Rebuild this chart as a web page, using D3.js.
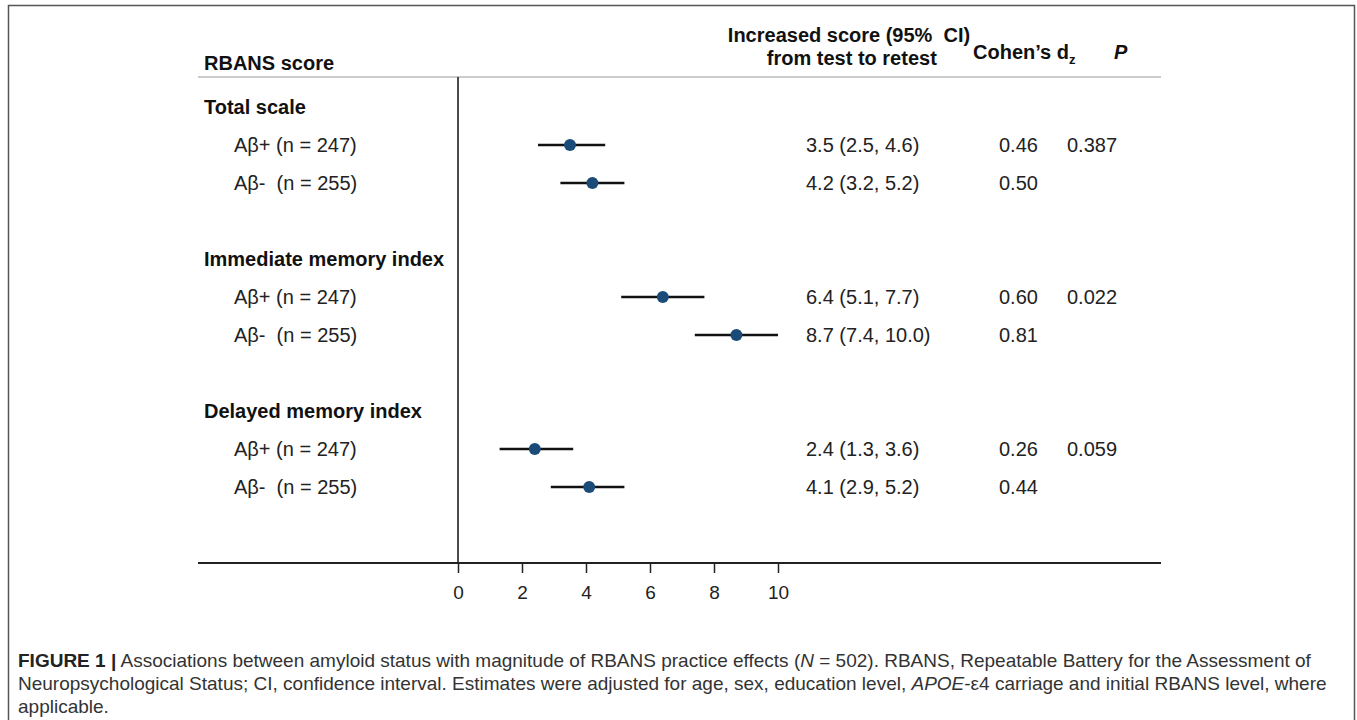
<!DOCTYPE html>
<html>
<head>
<meta charset="utf-8">
<script src="https://cdn.jsdelivr.net/npm/d3@7"></script>
<style>
  body { margin: 0; background: #fff; }
  svg { display: block; font-family: "Liberation Sans", Arial, sans-serif; }
  svg text { white-space: pre; }
</style>
</head>
<body>
<div id="chart"></div>
<script>
// RBANS practice effects by amyloid status
const sections = ['Total scale', 'Immediate memory index', 'Delayed memory index'];
const groups = ['A\u03B2+ (n = 247)', 'A\u03B2-  (n = 255)'];
const estimates = [3.5, 4.2, 6.4, 8.7, 2.4, 4.1];
const lower = [2.5, 3.2, 5.1, 7.4, 1.3, 2.9];
const upper = [4.6, 5.2, 7.7, 10.0, 3.6, 5.2];
const ciText = ['3.5 (2.5, 4.6)', '4.2 (3.2, 5.2)', '6.4 (5.1, 7.7)', '8.7 (7.4, 10.0)', '2.4 (1.3, 3.6)', '4.1 (2.9, 5.2)'];
const cohenD = ['0.46', '0.50', '0.60', '0.81', '0.26', '0.44'];
const pValues = ['0.387', '0.022', '0.059'];
const xTicks = [0, 2, 4, 6, 8, 10];

const W = 1357, H = 720;
const FS = 20;
const svg = d3.select('#chart').append('svg').attr('width', W).attr('height', H);

// outer frame (bottom edge is cut off in the original)
svg.append('path')
    .attr('d', `M8.5,${H} V5.5 H1354.5 V${H}`)
    .attr('fill', 'none').attr('stroke', '#555').attr('stroke-width', 1.5);

// slot index -> vertical position (heading, row, row, blank, ...)
const y = d3.scaleLinear().domain([0, 12]).range([107, 563]);
const x = d3.scaleLinear().domain([0, 10]).range([458, 778]);

const rows = [];
sections.forEach((s, si) => {
    groups.forEach((g, gi) => {
        const k = si * 2 + gi;
        rows.push({ section: si, label: g, slot: si * 4 + gi + 1, est: estimates[k], lo: lower[k], hi: upper[k], ci: ciText[k], d: cohenD[k], p: gi === 0 ? pValues[si] : '' });
    });
});

// column headers
const hdr = svg.append('g').attr('font-weight', 'bold').attr('font-size', FS).attr('fill', '#111');
hdr.append('text').attr('x', 204).attr('y', 70).text('RBANS score');
hdr.append('text').attr('x', 849).attr('y', 42).attr('text-anchor', 'middle').text('Increased score (95%  CI)');
hdr.append('text').attr('x', 849).attr('y', 65).attr('text-anchor', 'middle').text(' from test to retest');
const ch = hdr.append('text').attr('x', 973).attr('y', 59);
ch.append('tspan').text('Cohen\u2019s d');
ch.append('tspan').attr('font-size', 13).attr('dy', 5).text('z');
hdr.append('text').attr('x', 1114).attr('y', 59).attr('font-style', 'italic').text('P');

// header rule
svg.append('line').attr('x1', 198).attr('x2', 1161).attr('y1', 77).attr('y2', 77)
    .attr('stroke', '#bbb').attr('stroke-width', 1.5);

// section headings
svg.append('g').selectAll('text').data(sections).join('text')
    .attr('x', 204).attr('y', (d, i) => y(i * 4) + 7)
    .attr('font-size', FS).attr('font-weight', 'bold').attr('fill', '#111')
    .text(d => d);

const body = svg.append('g').attr('font-size', FS).attr('fill', '#222');
body.selectAll('text.lab').data(rows).join('text').attr('class', 'lab')
    .attr('x', 234).attr('y', d => y(d.slot) + 7).text(d => d.label);
body.selectAll('text.ci').data(rows).join('text').attr('class', 'ci')
    .attr('x', 806).attr('y', d => y(d.slot) + 7).text(d => d.ci);
body.selectAll('text.d').data(rows).join('text').attr('class', 'd')
    .attr('x', 999).attr('y', d => y(d.slot) + 7).text(d => d.d);
body.selectAll('text.p').data(rows).join('text').attr('class', 'p')
    .attr('x', 1067).attr('y', d => y(d.slot) + 7).text(d => d.p);

// null line
svg.append('line').attr('x1', x(0)).attr('x2', x(0)).attr('y1', 77).attr('y2', y(12))
    .attr('stroke', '#111').attr('stroke-width', 1.5);

// x axis
svg.append('line').attr('x1', 198).attr('x2', 1161).attr('y1', y(12)).attr('y2', y(12))
    .attr('stroke', '#222').attr('stroke-width', 2);
const axis = svg.append('g').attr('transform', `translate(0,${y(12)})`)
    .call(d3.axisBottom(x).tickValues(xTicks).tickSize(10).tickPadding(13));
axis.select('.domain').remove();
axis.selectAll('.tick line').attr('stroke', '#222').attr('stroke-width', 1.5);
axis.selectAll('.tick text').attr('font-size', 19).attr('fill', '#222')
    .attr('font-family', '"Liberation Sans", Arial, sans-serif');

// CIs and point estimates
const marks = svg.append('g');
marks.selectAll('line').data(rows).join('line')
    .attr('x1', d => x(d.lo)).attr('x2', d => x(d.hi))
    .attr('y1', d => y(d.slot)).attr('y2', d => y(d.slot))
    .attr('stroke', '#111').attr('stroke-width', 2.5);
marks.selectAll('circle').data(rows).join('circle')
    .attr('cx', d => x(d.est)).attr('cy', d => y(d.slot)).attr('r', 6)
    .attr('fill', '#1b4b78');

// caption
const cap = svg.append('g').attr('font-size', 19).attr('fill', '#333');
const l1 = cap.append('text').attr('x', 18).attr('y', 667);
l1.append('tspan').attr('font-weight', 'bold').attr('fill', '#222').text('FIGURE 1 |');
l1.append('tspan').text(' Associations between amyloid status with magnitude of RBANS practice effects (');
l1.append('tspan').attr('font-style', 'italic').text('N');
l1.append('tspan').text(' = 502). RBANS, Repeatable Battery for the Assessment of');
const l2 = cap.append('text').attr('x', 18).attr('y', 690);
l2.append('tspan').text('Neuropsychological Status; CI, confidence interval. Estimates were adjusted for age, sex, education level, ');
l2.append('tspan').attr('font-style', 'italic').text('APOE');
l2.append('tspan').text('-\u03B54 carriage and initial RBANS level, where');
cap.append('text').attr('x', 18).attr('y', 713).text('applicable.');
</script>
</body>
</html>
